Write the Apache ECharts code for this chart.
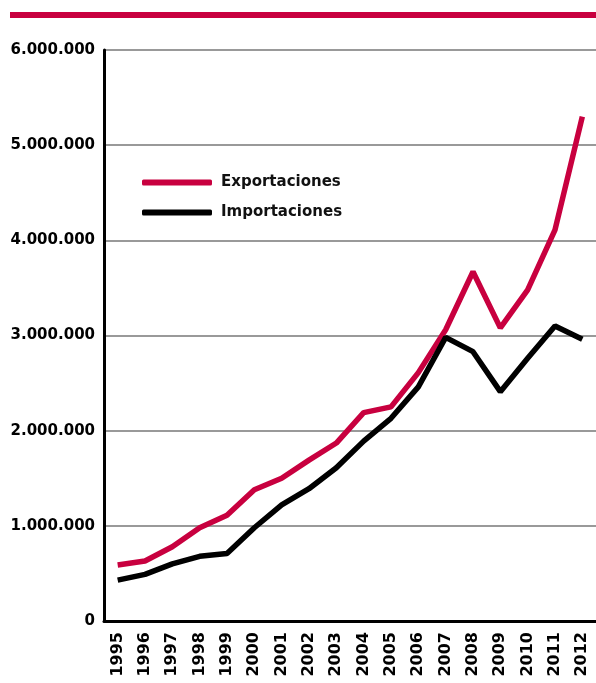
<!DOCTYPE html>
<html>
<head>
<meta charset="utf-8">
<script src="https://cdn.jsdelivr.net/npm/echarts@6/dist/echarts.min.js"></script>
<style>
  html, body { margin: 0; padding: 0; background: #fff; }
  #main { width: 596px; height: 683px; }
</style>
</head>
<body>
<div id="main"></div>
<script>
// datos
var years = ['1995', '1996', '1997', '1998', '1999', '2000', '2001', '2002', '2003',
  '2004', '2005', '2006', '2007', '2008', '2009', '2010', '2011', '2012'];
var exportaciones = [588000, 630000, 780000, 980000, 1110000, 1380000, 1500000, 1690000, 1870000,
  2190000, 2250000, 2610000, 3060000, 3670000, 3080000, 3480000, 4110000, 5300000];
var importaciones = [430000, 490000, 600000, 680000, 710000, 980000, 1220000, 1390000, 1610000,
  1890000, 2130000, 2460000, 2980000, 2830000, 2410000, 2760000, 3100000, 2960000];

var rojo = '#c8003f';
var fuente = 'DejaVu Sans';

var myChart = echarts.init(document.getElementById('main'));
var option = {
  backgroundColor: '#fff',
  animation: false,
  graphic: [
    { type: 'rect', shape: { x: 10, y: 12, width: 586, height: 6 }, style: { fill: rojo } }
  ],
  legend: {
    orient: 'vertical',
    left: 137,
    top: 170,
    itemWidth: 70,
    itemHeight: 6,
    itemGap: 15,
    icon: 'roundRect',
    textStyle: { fontFamily: fuente, fontSize: 15, fontWeight: 'bold', color: '#111', padding: [0, 0, 0, 4] },
    data: ['Exportaciones', 'Importaciones']
  },
  grid: { left: 104, right: 0, top: 50, bottom: 62 },
  xAxis: {
    type: 'category',
    data: years,
    boundaryGap: true,
    axisLine: { lineStyle: { color: '#000', width: 3 } },
    axisTick: { show: false },
    axisLabel: { rotate: 90, margin: 11, fontFamily: fuente, fontSize: 16, fontWeight: 'bold', color: '#000' }
  },
  yAxis: {
    type: 'value',
    min: 0,
    max: 6000000,
    interval: 1000000,
    axisLine: { show: true, lineStyle: { color: '#000', width: 3 } },
    axisTick: { show: false },
    splitLine: { lineStyle: { color: '#777', width: 1.5 } },
    axisLabel: {
      margin: 9,
      fontFamily: fuente, fontSize: 15, fontWeight: 'bold', color: '#000',
      formatter: function (v) {
        return String(v).replace(/\B(?=(\d{3})+(?!\d))/g, '.');
      }
    }
  },
  series: [
    {
      name: 'Exportaciones',
      type: 'line',
      data: exportaciones,
      showSymbol: false,
      symbol: 'none',
      itemStyle: { color: rojo },
      lineStyle: { color: rojo, width: 5.5 }
    },
    {
      name: 'Importaciones',
      type: 'line',
      data: importaciones,
      showSymbol: false,
      symbol: 'none',
      itemStyle: { color: '#000' },
      lineStyle: { color: '#000', width: 5.5 }
    }
  ]
};
myChart.setOption(option);
</script>
</body>
</html>
